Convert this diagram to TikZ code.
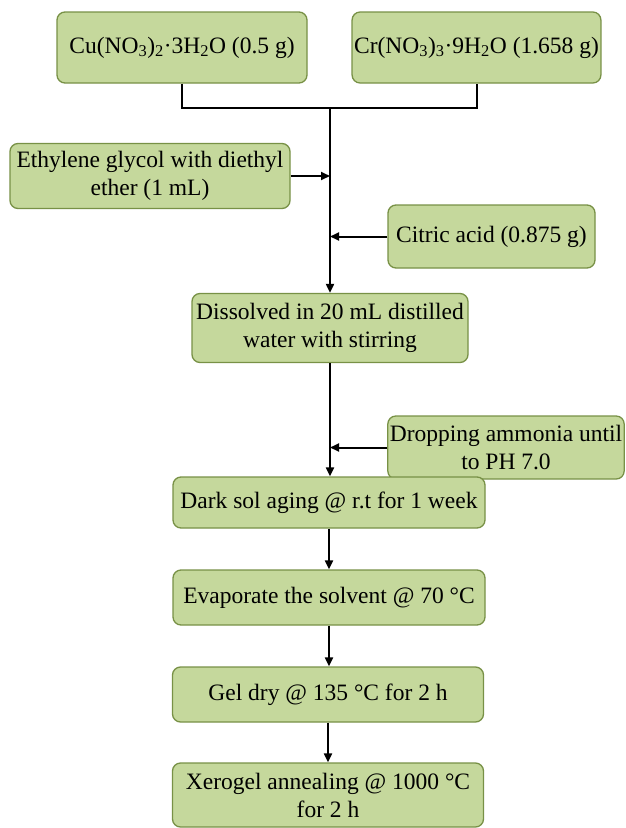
\documentclass[tikz,border=0pt]{standalone}
\usepackage{fontspec}
\setmainfont{Liberation Serif}
\usetikzlibrary{arrows.meta}
\definecolor{boxfill}{RGB}{197,216,156}
\definecolor{boxline}{RGB}{120,145,70}
\tikzset{
  procbox/.style={draw=boxline, line width=1.3pt, fill=boxfill, rounded corners=8pt,
    align=center, inner sep=2pt, font=\fontsize{23.5}{28}\selectfont},
  conn/.style={line width=2pt, black},
  arr/.style={conn, -{Triangle[length=9pt,width=8pt]}}
}
\begin{document}
\begin{tikzpicture}[x=1pt,y=-1pt]
\useasboundingbox (0,0) rectangle (625,828);
\node[procbox, minimum width=250pt, minimum height=71pt] (cu) at (182,47.5) {Cu(NO\textsubscript{3})\textsubscript{2}·3H\textsubscript{2}O (0.5 g)};
\node[procbox, minimum width=247pt, minimum height=71pt] (cr) at (476.5,47.5) {Cr(NO\textsubscript{3})\textsubscript{3}·9H\textsubscript{2}O (1.658 g)};
\node[procbox, minimum width=280pt, minimum height=65pt] (eth) at (150,176) {Ethylene glycol with diethyl\\ether (1 mL)};
\node[procbox, minimum width=207pt, minimum height=63pt] (cit) at (491.5,236.5) {Citric acid (0.875 g)};
\node[procbox, minimum width=276pt, minimum height=69pt] (dis) at (330,328) {Dissolved in 20 mL distilled\\water with stirring};
\node[procbox, minimum width=236pt, minimum height=63pt] (drop) at (506,447.5) {Dropping ammonia until\\to PH 7.0};
\node[procbox, minimum width=312pt, minimum height=51pt] (dark) at (329,502.5) {Dark sol aging @ r.t for 1 week};
\node[procbox, minimum width=312pt, minimum height=55pt] (evap) at (329,597.5) {Evaporate the solvent @ 70 °C};
\node[procbox, minimum width=311pt, minimum height=55pt] (gel) at (328,694.5) {Gel dry @ 135 °C for 2 h};
\node[procbox, minimum width=311pt, minimum height=64pt] (xer) at (328,795) {Xerogel annealing @ 1000 °C\\for 2 h};
\coordinate (j) at (330,108);
\draw[conn] (cu.south) |- (j) -| (cr.south);
\draw[arr] (j) -- (dis.north);
\draw[arr] (eth.east) -- (eth.east -| dis.north);
\draw[arr] (cit.west) -- (cit.west -| dis.north);
\draw[arr] (dis.south) -- (dis.south |- dark.north);
\draw[arr] (drop.west) -- (drop.west -| dis.south);
\draw[arr] (dark.south) -- (dark.south |- evap.north);
\draw[arr] (evap.south) -- (evap.south |- gel.north);
\draw[arr] (gel.south) -- (gel.south |- xer.north);
\end{tikzpicture}
\end{document}
